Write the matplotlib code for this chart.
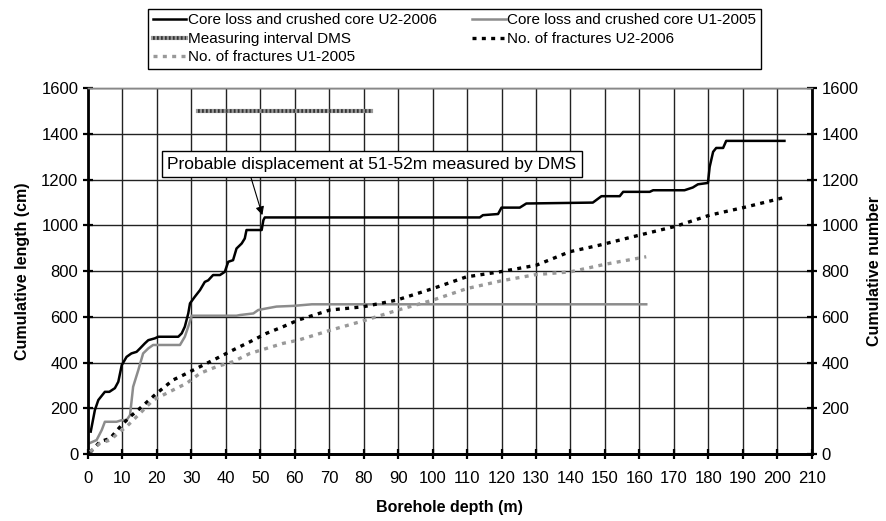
import matplotlib
matplotlib.use("Agg")
from matplotlib import pyplot as plt

plt.rcParams['font.family'] = ['Liberation Sans', 'DejaVu Sans']

# core loss and crushed core, borehole U2-2006 (cm)
core_u2_x = [0.8, 2, 3, 4.9, 6.2, 7.8, 8.8, 9.8, 11.2, 12.6, 14.1, 15.1, 16.5, 17.5, 19.4,
             20.4, 26.2, 27.2, 28.1, 29.1, 29.6, 31, 32.5, 33.9, 34.9, 36.3, 38.3, 39.7, 40.7, 42.1,
             43.1, 44.6, 45.5, 46, 50.4, 50.9, 51.3, 113.7, 114.6, 119, 120, 125.3, 127.2, 146.5, 149,
             154.3, 155.3, 163, 164, 173.1, 175.5, 177, 179.9, 180.4, 181.4, 182.3, 184.3, 185.2, 202.1]
core_u2_y = [98, 192, 236, 272, 272, 288, 316, 389, 425, 440, 447, 462, 484, 498, 506,
             513, 513, 528, 557, 615, 659, 688, 717, 753, 760, 783, 783, 797, 841, 848,
             899, 921, 943, 980, 980, 1023, 1035, 1035, 1045, 1050, 1078, 1078, 1096, 1100, 1128,
             1128, 1147, 1147, 1154, 1154, 1166, 1180, 1186, 1256, 1322, 1339, 1339, 1370, 1370]

# core loss and crushed core, borehole U1-2005 (cm)
core_u1_x = [0.4, 2.5, 4, 4.9, 8.3, 9.8, 11.2, 12.2, 13.1, 14.6, 16, 17.5, 18.9, 26.7, 28.1,
             29.1, 30.1, 43.1, 44.1, 48, 49.4, 51.8, 54.7, 59.5, 65, 162]
core_u1_y = [47, 61, 105, 141, 141, 148, 148, 170, 294, 367, 440, 462, 477, 477, 513,
             557, 605, 605, 608, 615, 630, 637, 645, 648, 655, 655]

# cumulative number of fractures
frac_u2_x = [0.6, 3.5, 6.4, 9.8, 12.2, 15.1, 19.9, 24.7, 27.6, 32.5, 37.3, 42.1, 47, 51.8, 56.6,
             61, 70.2, 79.8, 89.5, 100.1, 109.8, 119.5, 130.1, 139.8, 148.5, 160.1, 170.7, 180.4, 191, 201.7]
frac_u2_y = [7, 54, 68, 127, 163, 200, 265, 324, 345, 382, 418, 455, 491, 528, 557,
             586, 630, 644, 673, 724, 775, 797, 826, 885, 914, 958, 997, 1045, 1081, 1121]

frac_u1_x = [0.6, 3.5, 6.4, 9.3, 11.2, 15.1, 18.9, 24.7, 28.6, 32.5, 37.3, 42.1, 47, 51.8, 56.6,
             61, 70, 80, 90, 100, 110, 120, 130, 140, 150, 162]
frac_u1_y = [10, 47, 61, 98, 120, 178, 236, 280, 309, 353, 382, 404, 440, 462, 484,
             498, 540, 583, 630, 673, 724, 758, 785, 797, 830, 863]

# DMS measuring interval
dms_x = [32, 82]
dms_y = [1500, 1500]

fig = plt.figure(figsize=(8.86, 5.21), dpi=100)
ax = fig.add_axes([0.0993, 0.1286, 0.8168, 0.7019])
ax2 = ax.twinx()

ax.set_xlim(0, 210)
ax.set_ylim(0, 1600)
ax2.set_ylim(0, 1600)
ax.set_xticks(range(0, 211, 10))
ax.set_yticks(range(0, 1601, 200))
ax2.set_yticks(range(0, 1601, 200))
ax.grid(True, color='#222222', linewidth=1)
ax.set_axisbelow(True)

for a in (ax, ax2):
    for s in ('left', 'bottom', 'right'):
        a.spines[s].set_linewidth(2)
    a.spines['top'].set_color('#888888')
    a.spines['top'].set_linewidth(1)
    a.tick_params(direction='inout', length=7, width=1.6, labelsize=12)
ax2.spines['left'].set_visible(False)
ax.spines['right'].set_visible(False)
ax.tick_params(axis='x', pad=9)

l1, = ax.plot(core_u2_x, core_u2_y, color='black', lw=1.8)
l2, = ax.plot(core_u1_x, core_u1_y, color='#8c8c8c', lw=1.8)
d1, = ax.plot(dms_x, dms_y, color='#999999', lw=3)
d2, = ax.plot(dms_x, dms_y, color='#333333', lw=2.6, linestyle=(0, (0.5, 0.6)))
f2, = ax2.plot(frac_u2_x, frac_u2_y, color='black', lw=2.4, linestyle=(0, (1.2, 1.6)))
f1, = ax2.plot(frac_u1_x, frac_u1_y, color='#999999', lw=2.4, linestyle=(0, (1.2, 1.6)))

ax.annotate('Probable displacement at 51-52m measured by DMS', xy=(50.6, 1045), xytext=(82.4, 1268),
            ha='center', va='center', fontsize=12.5,
            bbox=dict(boxstyle='square,pad=0.3', fc='white', ec='black', lw=1),
            arrowprops=dict(arrowstyle='-|>', color='black', lw=0.8,
                            relpos=(0.2, 0.0), shrinkA=0, shrinkB=0))

ax.set_xlabel('Borehole depth (m)', fontsize=11.5, fontweight='bold', labelpad=10)
ax.set_ylabel('Cumulative length (cm)', fontsize=11.5, fontweight='bold', labelpad=8)
ax2.set_ylabel('Cumulative number', fontsize=11.5, fontweight='bold', labelpad=6)

handles = [l1, (d1, d2), f1, l2, f2]
labels = ['Core loss and crushed core U2-2006', 'Measuring interval DMS', 'No. of fractures U1-2005',
          'Core loss and crushed core U1-2005', 'No. of fractures U2-2006']
leg = fig.legend(handles, labels, ncol=2, loc='upper center', bbox_to_anchor=(0.513, 0.998),
                 fontsize=11, frameon=True, fancybox=False,
                 edgecolor='black', framealpha=1, handlelength=2.2, handletextpad=0.1,
                 columnspacing=2.3, labelspacing=0.3, borderpad=0.3)
leg.get_frame().set_linewidth(1)

fig.savefig('out.png', dpi=100)
